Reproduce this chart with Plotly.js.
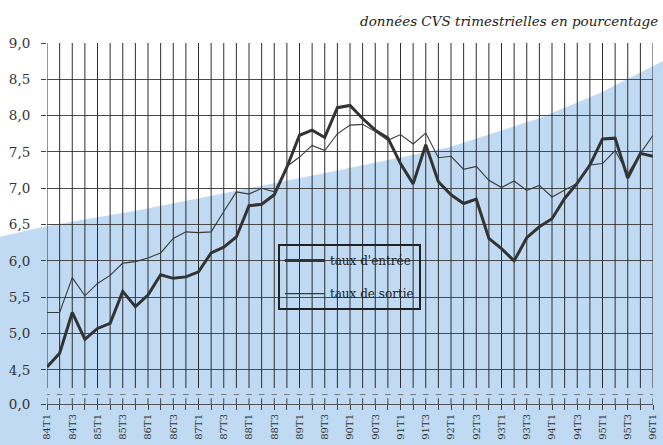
<!DOCTYPE html>
<html>
<head>
<meta charset="utf-8">
<script src="https://cdn.plot.ly/plotly-3.0.1.min.js"></script>
<style>
  html, body { margin: 0; padding: 0; background: #ffffff; }
  #chart { width: 663px; height: 445px; }
</style>
</head>
<body>
<div id="chart"></div>
<script>
// ---- data ----
const quarters = [
  "84T1","84T2","84T3","84T4","85T1","85T2","85T3","85T4",
  "86T1","86T2","86T3","86T4","87T1","87T2","87T3","87T4",
  "88T1","88T2","88T3","88T4","89T1","89T2","89T3","89T4",
  "90T1","90T2","90T3","90T4","91T1","91T2","91T3","91T4",
  "92T1","92T2","92T3","92T4","93T1","93T2","93T3","93T4",
  "94T1","94T2","94T3","94T4","95T1","95T2","95T3","95T4",
  "96T1"
];
const tauxEntree = [
  4.54, 4.73, 5.29, 4.92, 5.07, 5.14, 5.58, 5.37,
  5.53, 5.81, 5.76, 5.78, 5.85, 6.11, 6.19, 6.33,
  6.76, 6.78, 6.91, 7.29, 7.73, 7.80, 7.70, 8.11,
  8.14, 7.96, 7.80, 7.69, 7.34, 7.06, 7.60, 7.09,
  6.91, 6.79, 6.85, 6.31, 6.17, 6.00, 6.32, 6.47,
  6.58, 6.86, 7.07, 7.32, 7.68, 7.69, 7.14, 7.48,
  7.44
];
const tauxSortie = [
  5.29, 5.29, 5.77, 5.52, 5.69, 5.80, 5.97, 5.99,
  6.04, 6.11, 6.31, 6.40, 6.39, 6.40, 6.68, 6.95,
  6.92, 7.00, 6.95, 7.30, 7.43, 7.59, 7.52, 7.75,
  7.87, 7.88, 7.78, 7.66, 7.74, 7.61, 7.76, 7.42,
  7.44, 7.26, 7.30, 7.11, 7.01, 7.10, 6.97, 7.04,
  6.88, 6.98, 7.07, 7.32, 7.34, 7.52, 7.20, 7.48,
  7.73
];
const seriesNames = ["taux d'entrée", "taux de sortie"];
// y axis: broken axis, the "0,0" baseline sits just below 4,5
const yTickVals = [4.03, 4.5, 5.0, 5.5, 6.0, 6.5, 7.0, 7.5, 8.0, 8.5, 9.0];
const yTickText = ["0,0", "4,5", "5,0", "5,5", "6,0", "6,5", "7,0", "7,5", "8,0", "8,5", "9,0"];
// x tick labels: only T1 and T3 are written
const xTickText = quarters.map(q => (q.endsWith("T1") || q.endsWith("T3")) ? q : "");
const titleText = "données CVS trimestrielles en pourcentage";
// decorative blue background boundary (paper units)
const bgCurveX = [-0.08, 0.0, 0.1535, 0.3185, 0.4835, 0.665, 0.8135, 0.9125, 1.02];
const bgCurveY = [0.4626, 0.4931, 0.5374, 0.5928, 0.6482, 0.7119, 0.7922, 0.8615, 0.9529];

// ---- helpers built from the data ----
const yTop = 9.0, yGridBottom = 4.25, yBase = 4.03, yInnerTick = 4.11, yDash = 4.16;
const gx = [], gy = [], tx = [], ty = [];
quarters.forEach(q => {
  gx.push(q, q, null); gy.push(yTop, yGridBottom, null);
  tx.push(q, q, null); ty.push(yBase, yInnerTick, null);
});

let bgPath = "M " + bgCurveX[0] + " -0.12";
for (let i = 0; i < bgCurveX.length; i++) bgPath += " L " + bgCurveX[i] + " " + bgCurveY[i];
bgPath += " L " + bgCurveX[bgCurveX.length - 1] + " -0.12 Z";

const serif = "DejaVu Serif";

const traces = [
  { x: gx, y: gy, mode: "lines", line: { color: "#2e2e2e", width: 1 },
    showlegend: false, hoverinfo: "skip", connectgaps: false },
  { x: tx, y: ty, mode: "lines", line: { color: "#444", width: 1 },
    showlegend: false, hoverinfo: "skip", connectgaps: false },
  { x: quarters, y: quarters.map(() => yDash), mode: "markers",
    marker: { symbol: "line-ew", size: 4, line: { color: "#777", width: 1 } },
    showlegend: false, hoverinfo: "skip" },
  { x: quarters, y: tauxEntree, name: seriesNames[0], mode: "lines",
    line: { color: "#333333", width: 3 }, legendgroup: "a" },
  { x: quarters, y: tauxSortie, name: seriesNames[1], mode: "lines",
    line: { color: "#3a3a3a", width: 1.1 }, legendgroup: "b" }
];

const layout = {
  width: 663, height: 445,
  margin: { l: 47, r: 10, t: 43, b: 41, pad: 0 },
  paper_bgcolor: "#ffffff",
  plot_bgcolor: "rgba(0,0,0,0)",
  font: { family: serif, color: "#333" },
  annotations: [
    { text: titleText, xref: "paper", yref: "paper",
      x: 1.012, xanchor: "right", y: 1.061, yanchor: "middle", showarrow: false,
      font: { family: serif, size: 13.5, color: "#222", style: "italic" } }
  ],
  xaxis: {
    type: "category", range: [0, 48],
    showgrid: false, zeroline: false,
    showline: true, linecolor: "#555", linewidth: 1,
    tickmode: "array", tickvals: quarters, ticktext: xTickText,
    ticks: "outside", ticklen: 5, tickcolor: "#444", tickwidth: 1,
    tickangle: -90, tickfont: { family: serif, size: 10, color: "#333" }
  },
  yaxis: {
    range: [yBase, yTop], showgrid: true, gridcolor: "#4a4a4a", gridwidth: 1,
    zeroline: false, showline: false,
    tickmode: "array", tickvals: yTickVals, ticktext: yTickText,
    ticks: "outside", ticklen: 5, tickcolor: "#444", ticklabelstandoff: 8,
    tickfont: { family: serif, size: 13.5, color: "#333" }
  },
  shapes: [
    { type: "path", xref: "paper", yref: "paper", path: bgPath,
      fillcolor: "#bfdaf2", line: { width: 0 }, layer: "below" }
  ],
  legend: {
    x: 0.381, y: 0.443, xanchor: "left", yanchor: "top",
    bgcolor: "rgba(0,0,0,0)", bordercolor: "#222", borderwidth: 2,
    font: { family: serif, size: 12, color: "#222" },
    tracegroupgap: 14, itemwidth: 40
  },
  showlegend: true
};

Plotly.newPlot("chart", traces, layout, { displayModeBar: false, staticPlot: true });
</script>
</body>
</html>
